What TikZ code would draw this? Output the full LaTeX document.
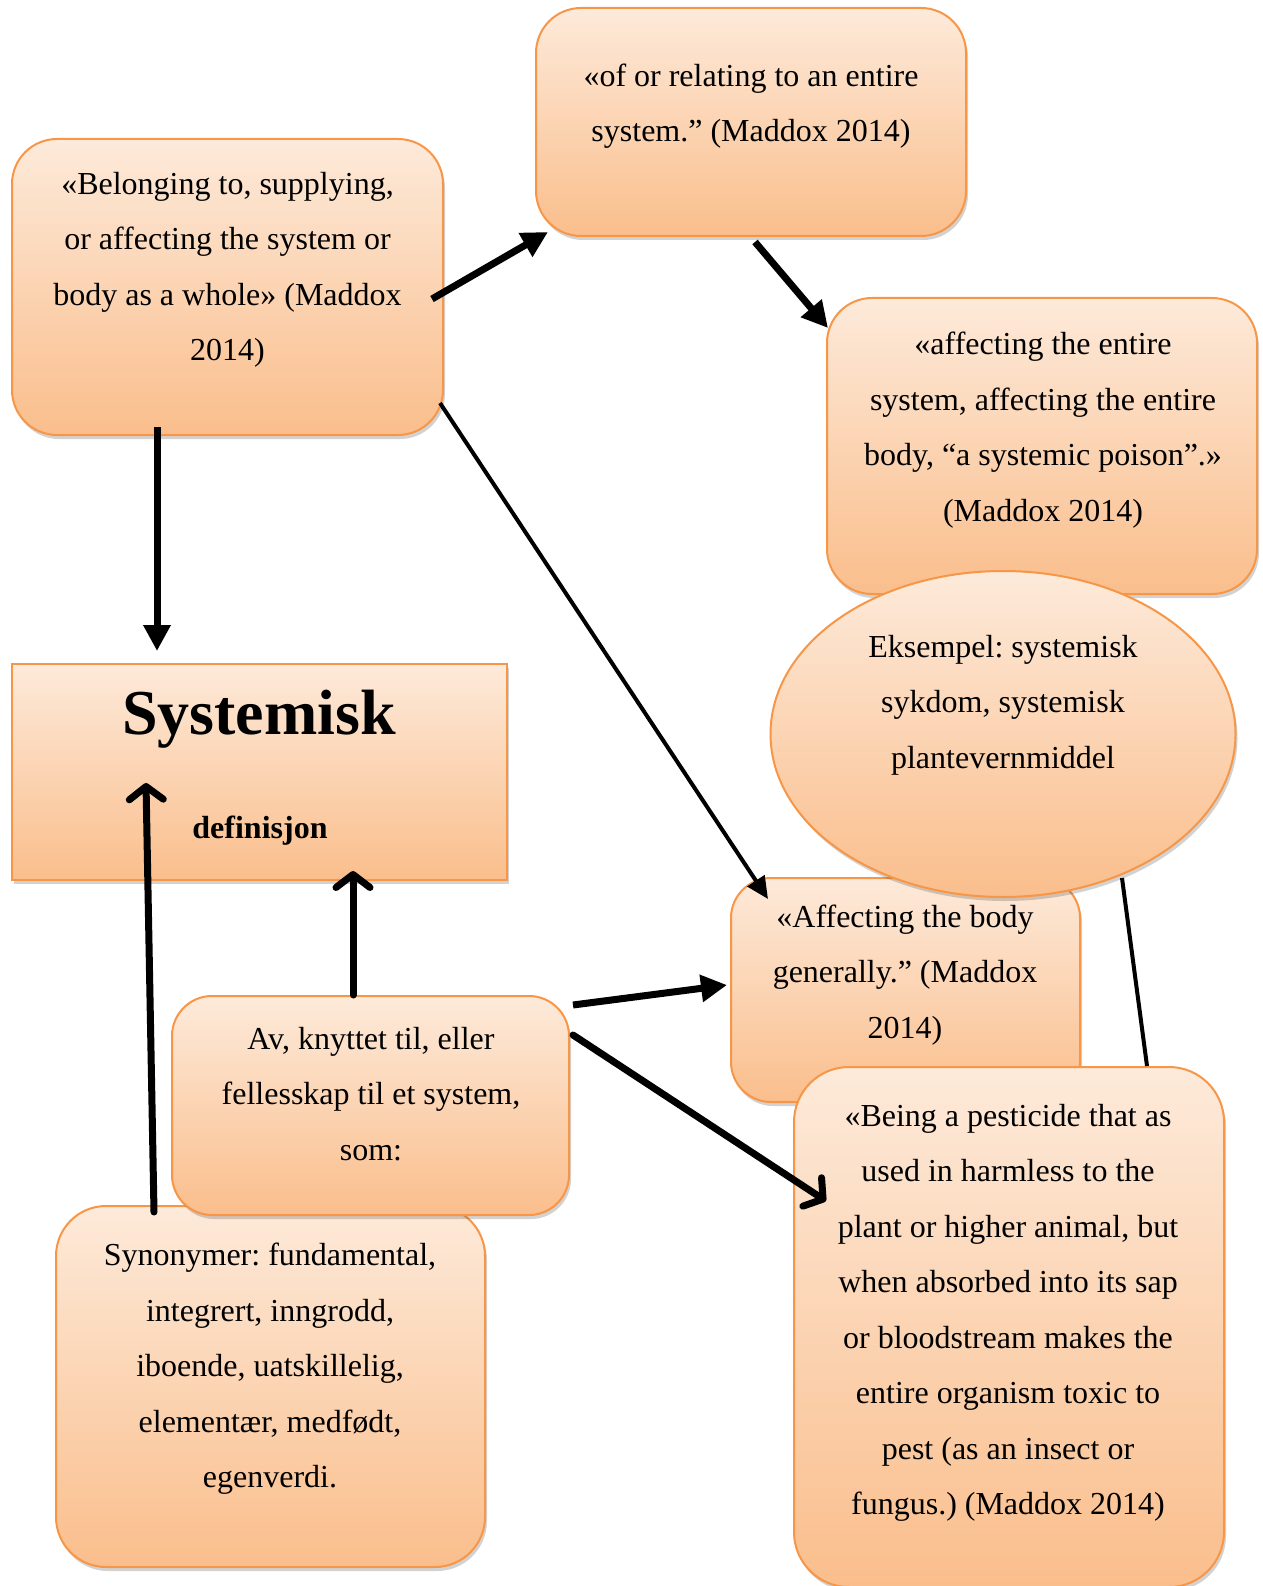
\documentclass[tikz,border=0pt]{standalone}
\usepackage{fontspec}
\setmainfont{Liberation Serif}
\usetikzlibrary{arrows.meta,shadows,shapes.geometric,calc}
\definecolor{edgeorange}{RGB}{247,150,70}
\definecolor{filltop}{RGB}{253,234,218}
\definecolor{fillbot}{RGB}{250,190,140}
\tikzset{
  card/.style={draw=edgeorange, line width=2pt, top color=filltop, bottom color=fillbot,
    rounded corners=#1, inner sep=0pt,
    drop shadow={opacity=0.25, shadow xshift=2pt, shadow yshift=-4pt, fill=black!70}},
  oval/.style={ellipse, draw=edgeorange, line width=2pt, top color=filltop, bottom color=fillbot,
    inner sep=0pt,
    drop shadow={opacity=0.25, shadow xshift=2pt, shadow yshift=-4pt, fill=black!70}},
  txt/.style={align=center, inner sep=0pt, font=\fontsize{32}{55.5}\selectfont\frenchspacing},
  heavy/.style={line width=7pt, -{Triangle[length=26pt, width=26pt]}},
  slim/.style={line width=4pt, -{Triangle[length=22pt, width=20pt]}},
  barb/.style={line width=7pt, line cap=round, -{Straight Barb[length=13pt, width=34pt, round]}},
  tie/.style={line width=4pt}
}
\begin{document}
\begin{tikzpicture}[x=1pt, y=-1pt]
\useasboundingbox (0,0) rectangle (1262,1586);

% definition boxes
\node[card=45pt, minimum width=431pt, minimum height=296pt] (A) at (227.5,287) {};
\node[txt] (At) at (227.5,270) {«Belonging to, supplying,\\or affecting the system or\\body as a whole» (Maddox\\2014)};

\node[card=45pt, minimum width=430pt, minimum height=228pt] (B) at (751,122) {};
\node[txt] (Bt) at (751,106) {«of or relating to an entire\\system.” (Maddox 2014)};

\node[card=45pt, minimum width=430pt, minimum height=296pt] (C) at (1042,446) {};
\node[txt] (Ct) at (1043,430) {«affecting the entire\\system, affecting the entire\\body, “a systemic poison”.»\\(Maddox 2014)};

\node[card=40pt, minimum width=349pt, minimum height=224pt] (D) at (905.5,990) {};
\node[txt] (Dt) at (905,975) {«Affecting the body\\generally.” (Maddox\\2014)};

% example ellipse
\node[oval, minimum width=465pt, minimum height=326pt] (Ex) at (1003,734) {};
\node[txt] (Ext) at (1003,705) {Eksempel: systemisk\\sykdom, systemisk\\plantevernmiddel};

% central term
\node[card=0pt, minimum width=495pt, minimum height=216pt] (S) at (259.5,772) {};
\node[inner sep=0pt, font=\fontsize{64}{70}\selectfont\bfseries] (St) at (259,719) {Systemisk};
\node[inner sep=0pt, font=\fontsize{32}{40}\selectfont\bfseries] (Sd) at (260,831) {definisjon};

% synonyms and explanation
\node[card=50pt, minimum width=429pt, minimum height=361pt] (F) at (270.5,1386.5) {};
\node[txt] (Ft) at (270,1369) {Synonymer: fundamental,\\integrert, inngrodd,\\iboende, uatskillelig,\\elementær, medfødt,\\egenverdi.};

\node[card=40pt, minimum width=397pt, minimum height=219pt] (E) at (370.5,1105.5) {};
\node[txt] (Et) at (371,1094) {Av, knyttet til, eller\\fellesskap til et system,\\som:};

% pesticide box
\node[card=55pt, minimum width=430pt, minimum height=520pt] (G) at (1009,1327) {};
\node[txt] (Gt) at (1008,1313) {«Being a pesticide that as\\used in harmless to the\\plant or higher animal, but\\when absorbed into its sap\\or bloodstream makes the\\entire organism toxic to\\pest (as an insect or\\fungus.) (Maddox 2014)};

% plain line from the example to the pesticide box
\draw[tie] ($(Ex.center)+(119,144)$) -- ($(G.north west)+(354,0)$);

% connectors
\draw[heavy] ($(A.north west)+(421,161)$) -- ($(B.north west)+(13,225)$);
\draw[heavy] ($(B.north west)+(220,235)$) -- ($(C.north west)+(2,31)$);
\draw[slim]  ($(A.north west)+(429,265)$) -- ($(D.north west)+(38,22)$);
\draw[heavy] ($(A.north west)+(146,289)$) -- ($(S.north west)+(146,-12)$);
\draw[barb]  ($(F.north west)+(99,7)$) -- ($(S.north west)+(135,120)$);
\draw[barb]  ($(E.north west)+(182,0)$) -- ($(S.north west)+(342,208)$);
\draw[heavy] ($(E.north west)+(402,10)$) -- ($(D.north west)+(-3,108)$);
\draw[barb]  ($(E.north west)+(402,40)$) -- ($(G.north west)+(33,135)$);
\end{tikzpicture}
\end{document}
